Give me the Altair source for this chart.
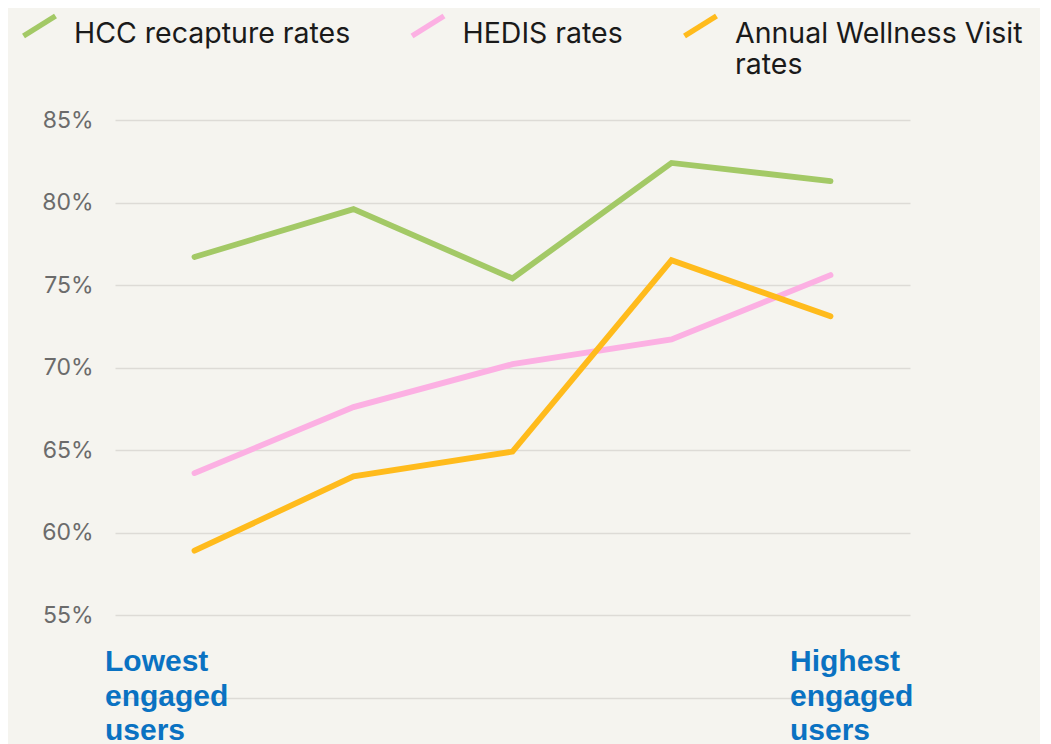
import altair as alt
import pandas as pd

stages = ["1", "2", "3", "4", "5"]
series_names = ["HCC recapture rates", "HEDIS rates", "Annual Wellness Visit rates"]
hcc = [76.7, 79.6, 75.4, 82.4, 81.3]
hedis = [63.6, 67.6, 70.2, 71.7, 75.6]
awv = [58.9, 63.4, 64.9, 76.5, 73.1]
colors = ["#a3c966", "#fcb0e3", "#ffbb1c"]
y_ticks = [50, 55, 60, 65, 70, 75, 80, 85]

rows = []
for name, vals in zip(series_names, [hcc, hedis, awv]):
    for s, v in zip(stages, vals):
        rows.append({"stage": s, "series": name, "value": v})
df = pd.DataFrame(rows)

label_expr_x = ("datum.value == '1' ? ['Lowest', 'engaged', 'users'] : "
                "datum.value == '5' ? ['Highest', 'engaged', 'users'] : ''")

legend_expr = ("datum.label == 'Annual Wellness Visit rates' ? ['Annual Wellness Visit', 'rates'] : "
               "[datum.label, ' ']")

chart = alt.Chart(df).mark_line(strokeWidth=5.8, strokeCap="round", strokeJoin="miter").encode(
    x=alt.X("stage:O", sort=stages, scale=alt.Scale(type="point"),
            axis=alt.Axis(title=None, domain=False, ticks=False, grid=False,
                          labelAngle=0, labelExpr=label_expr_x,
                          labelAlign="left", labelBaseline="top",
                          labelFont="Liberation Sans", labelFontWeight="bold",
                          labelFontSize=30, labelColor="#0a72c2",
                          labelLineHeight=34.5, labelPadding=-51,
                          labelOffset={"condition": {"test": "datum.value == '1'", "value": -90}, "value": -41},
                          labelOverlap=False, labelLimit=300, labelBound=False, labelFlush=False)),
    y=alt.Y("value:Q", scale=alt.Scale(domain=[50, 85], nice=False, zero=False),
            axis=alt.Axis(title=None, values=y_ticks, domain=False, ticks=False,
                          labelExpr="datum.value == 50 ? '' : datum.value + '%'",
                          labelFont="Inter", labelFontSize=23,
                          labelColor="#6b6b6b", labelPadding=22,
                          gridColor="#dddbd6", gridWidth=1.6)),
    color=alt.Color("series:N", sort=series_names,
                    scale=alt.Scale(domain=series_names, range=colors),
                    legend=alt.Legend(title=None, orient="none", direction="horizontal",
                                      legendX=-94.5, legendY=-119,
                                      symbolType="M-1,1L1,-0.25", symbolSize=1024,
                                      symbolStrokeWidth=5.5, symbolFillColor="transparent",
                                      labelFont="Inter", labelFontSize=28.5,
                                      labelColor="#1a1a1a", labelLimit=500,
                                      labelOffset=15.5, columnPadding=50.5,
                                      labelBaseline="top",
                                      labelExpr=legend_expr)),
).properties(
    width=795, height=577.5,
    autosize=alt.AutoSizeParams(type="none"),
    padding={"left": 107, "top": 112, "right": 130, "bottom": 46},
    background="#f5f4ef",
).configure_view(stroke=None)

chart.save("out.html", embed_options={"renderer": "svg", "actions": False})
